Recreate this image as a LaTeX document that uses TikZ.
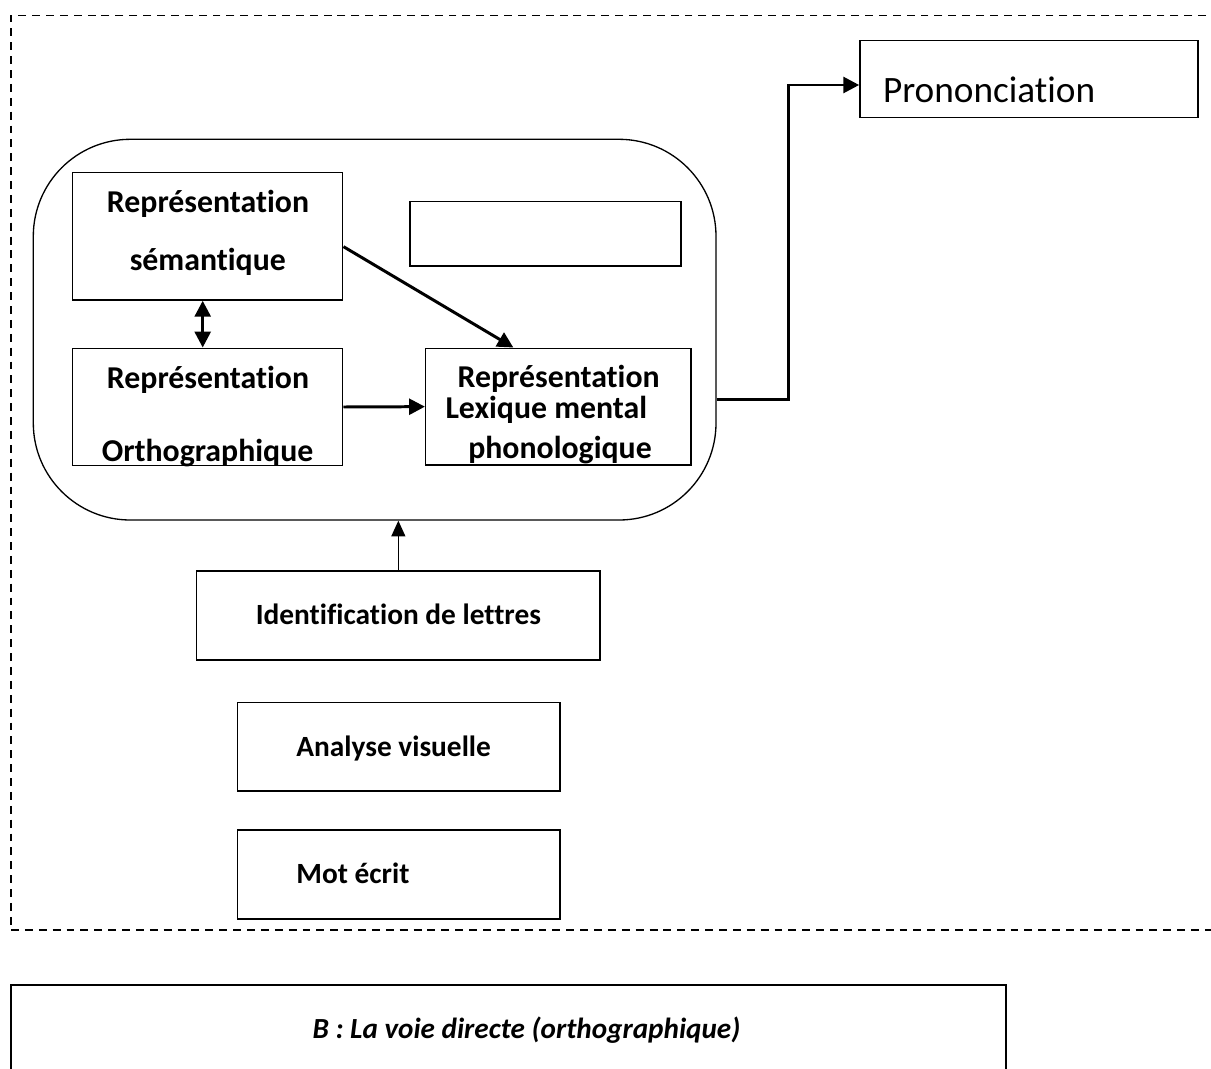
\documentclass[tikz,border=0pt]{standalone}
\usepackage{fontspec}
\setmainfont{Carlito}[Ligatures={NoCommon}]
\usepackage{tikz}
\usetikzlibrary{arrows.meta, positioning, calc}

\begin{document}
\begin{tikzpicture}[
  box/.style={draw, line width=0.9pt, inner sep=0pt},
  lbl/.style={font=\fontsize{16.7}{20}\selectfont\bfseries, inner sep=0pt, anchor=base},
  inlbl/.style={lbl, font=\fontsize{18.1}{22}\selectfont\bfseries},
  conn/.style={line width=1.7pt, -{Triangle[length=9pt, width=9pt]}}
]
  \useasboundingbox (0,0) rectangle (24.22,-21.36);

  % dashed frame (open on the right)
  \draw[line width=0.7pt, dash pattern=on 4.5pt off 3.4pt] (24.4,-0.314) -- (0.22,-0.314) -- (0.22,-18.6);
  \draw[line width=1pt, dash pattern=on 4.5pt off 3.4pt] (0.22,-18.6) -- (24.4,-18.6);

  % lexicon container
  \node[box, line width=0.75pt, rounded corners=1.94cm, minimum width=13.654cm, minimum height=7.614cm] (lex) at (7.493,-6.593) {};

  % inner boxes
  \node[box, minimum width=5.4cm, minimum height=2.554cm] (sem) at (4.154,-4.723) {};
  \node[box, minimum width=5.42cm, minimum height=1.286cm] (empty) at (10.91,-4.677) {};
  \node[box, minimum width=5.4cm, minimum height=2.348cm] (ortho) at (4.154,-8.14) {};
  \node[box, minimum width=5.306cm, minimum height=2.334cm] (phono) at (11.167,-8.133) {};

  \node[inlbl] (semA) at (4.16,-4.246) {Représentation};
  \node[inlbl] (semB) at (4.156,-5.4) {sémantique};
  \node[inlbl] (orthoA) at (4.16,-7.766) {Représentation};
  \node[inlbl] (orthoB) at (4.15,-9.22) {Orthographique};
  \node[inlbl] (phonoA) at (11.173,-7.75) {Représentation};
  \node[inlbl] (phonoB) at (10.927,-8.37) {Lexique mental};
  \node[inlbl] (phonoC) at (11.2,-9.166) {phonologique};

  % output
  \node[box, minimum width=6.76cm, minimum height=1.532cm] (pron) at (20.58,-1.58) {};
  \node[inner sep=0pt, anchor=base west, font=\fontsize{21.2}{25}\selectfont] (pronA) at (17.654,-2.054) {Prononciation};

  % input chain
  \node[box, minimum width=8.066cm, minimum height=1.78cm] (ident) at (7.967,-12.31) {};
  \node[lbl] (identA) at (7.967,-12.486) {Identification de lettres};
  \node[box, minimum width=6.454cm, minimum height=1.774cm] (visu) at (7.973,-14.933) {};
  \node[lbl, anchor=base west] (visuA) at (5.92,-15.134) {Analyse visuelle};
  \node[box, minimum width=6.454cm, minimum height=1.78cm] (mot) at (7.973,-17.49) {};
  \node[lbl, anchor=base west] (motA) at (5.92,-17.666) {Mot écrit};

  % caption
  \draw[line width=0.9pt] (0.22,-21.6) -- (0.22,-19.7) -- (20.12,-19.7) -- (20.12,-21.6);
  \node[lbl, font=\fontsize{16.6}{20}\selectfont\bfseries\itshape] (capt) at (10.53,-20.76) {B : La voie directe (orthographique)};

  % connectors
  \draw[line width=1.7pt, {Triangle[length=9pt, width=9pt]}-{Triangle[length=9pt, width=9pt]}] ([xshift=-1mm]sem.south) -- ([xshift=-1mm]ortho.north);
  \draw[conn] ([yshift=-2.1mm]sem.east) -- ([xshift=-9mm]phono.north);
  \draw[conn] (ortho.east) -- (phono.west);
  \draw[conn] ([yshift=-13.9mm]lex.east) -- ++(1.434,0) |- ([yshift=-1.2mm]pron.west);
  \draw[line width=0.75pt, -{Triangle[length=9pt, width=8pt]}] (ident.north) -- (ident.north |- lex.south);
\end{tikzpicture}
\end{document}
